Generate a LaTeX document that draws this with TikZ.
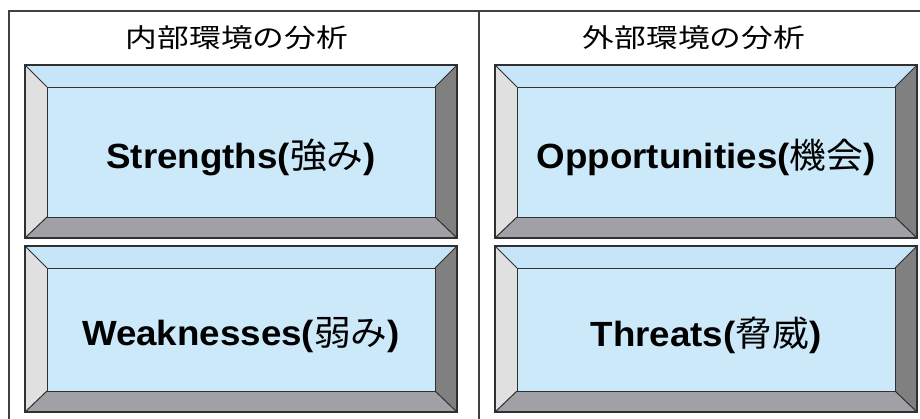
\documentclass[tikz,border=0pt]{standalone}
\usepackage{fontspec}
\setmainfont{Liberation Sans}
\newfontfamily\cjk{Noto Sans CJK JP}
\definecolor{facec}{HTML}{CCE9FA}
\definecolor{topc}{HTML}{C6E5F8}
\definecolor{leftc}{HTML}{E0E0E0}
\definecolor{rightc}{HTML}{808080}
\definecolor{botc}{HTML}{A0A0A6}
\definecolor{edgec}{HTML}{303030}
\definecolor{framec}{HTML}{404040}
\tikzset{
  framestyle/.style={draw=framec, line width=1.2pt},
  edgeline/.style={draw=edgec, line width=1pt, line join=miter},
  lbl/.style={inner sep=0pt, font=\fontsize{35}{40}\selectfont\bfseries},
  ttl/.style={inner sep=0pt, font=\fontsize{26}{30}\selectfont\cjk},
}
\newcommand\bevelbox[6]{%
  \fill[facec] (#2,#3) rectangle (#4,#5);
  \fill[topc] (#2,#3) -- (#4,#3) -- (#4-22,#3+22) -- (#2+22,#3+22) -- cycle;
  \fill[leftc] (#2,#3) -- (#2+22,#3+22) -- (#2+22,#5-21) -- (#2,#5) -- cycle;
  \fill[rightc] (#4,#3) -- (#4-22,#3+22) -- (#4-22,#5-21) -- (#4,#5) -- cycle;
  \fill[botc] (#2,#5) -- (#2+22,#5-21) -- (#4-22,#5-21) -- (#4,#5) -- cycle;
  \draw[edgeline] (#2+22,#3+22) rectangle (#4-22,#5-21);
  \draw[edgeline] (#2,#3) -- (#2+22,#3+22) (#4,#3) -- (#4-22,#3+22)
                  (#2,#5) -- (#2+22,#5-21) (#4,#5) -- (#4-22,#5-21);
  \draw[edgeline, line width=1.5pt] (#2,#3) rectangle (#4,#5);
  \node[lbl] (#1) at ({(#2+#4)/2},{(#3+#5)/2+6}) {\scalebox{1.05}[1]{#6}};
}
\begin{document}
\begin{tikzpicture}[x=1pt,y=-1pt]
\useasboundingbox (0,0) rectangle (920,418);
\fill[white] (0,0) rectangle (920,418);
\draw[framestyle] (930,11) -- (9,11) -- (9,430);
\draw[framestyle] (479,11) -- (479,430);
\node[ttl] (tin) at (237,38) {\scalebox{1.22}[1]{内部環境の分析}};
\node[ttl] (tout) at (694,38) {\scalebox{1.22}[1]{外部環境の分析}};
\bevelbox{s}{25}{65}{457}{238}{Strengths({\mdseries\cjk 強み})}
\bevelbox{w}{25}{246}{457}{412}{Weaknesses({\mdseries\cjk 弱み})}
\bevelbox{o}{495}{65}{917}{238}{Opportunities({\mdseries\cjk 機会})}
\bevelbox{t}{495}{246}{917}{412}{Threats({\mdseries\cjk 脅威})}
\end{tikzpicture}
\end{document}
